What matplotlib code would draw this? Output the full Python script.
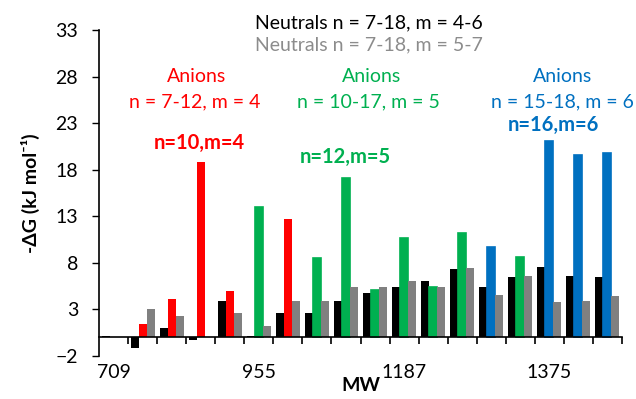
import numpy as np
import matplotlib.pyplot as plt

plt.rcParams['font.family'] = ['Lato', 'DejaVu Sans']

# one category per cluster size, ordered by molecular weight
n_cat = 18
mw_label_pos = [0, 5, 10, 15]
mw_label_txt = ["709", "955", "1187", "1375"]

neutral_m46 = [0.1, -1.1, 1.0, -0.25, 3.9, 0.1, 2.64, 2.64, 3.9,
               4.75, 5.4, 6.0, 7.29, 5.4, 6.47, 7.54, 6.64, 6.47]
anion = [0.0, 1.47, 4.15, 18.86, 5.0, 14.04, 12.7, 8.55, 17.1,
         5.04, 10.7, 5.4, 11.25, 9.65, 8.6, 21.04, 19.54, 19.75]
anion_m = [4, 4, 4, 4, 4, 5, 4, 5, 5, 5, 5, 5, 5, 6, 5, 6, 6, 6]
neutral_m57 = [0.0, 3.07, 2.25, 0.0, 2.65, 1.18, 3.9, 3.9, 5.4,
               5.4, 6.0, 5.4, 7.47, 4.57, 6.64, 3.75, 3.93, 4.39]

RED, GREEN, BLUE, GREY = '#FF0000', '#00B050', '#0070C0', '#808080'
m_colors = {4: RED, 5: GREEN, 6: BLUE}
FS = 14

W, H = 636, 399
fig = plt.figure(figsize=(W / 100, H / 100), dpi=100)
ax = fig.add_axes([99 / W, 1 - 356 / H, 523 / W, 326 / H])

x = np.arange(n_cat)
bw = 0.275
ax.bar(x - bw, neutral_m46, width=bw, color='black', zorder=1)
for xi, v, m in zip(x, anion, anion_m):
    c = m_colors[m]
    lw = 0 if m == 4 else 1.2
    ax.bar(xi, v, width=bw, color=c, edgecolor=c, linewidth=lw, zorder=1)
ax.bar(x + bw, neutral_m57, width=bw, color=GREY, zorder=1)

ax.set_xlim(-0.5, n_cat - 0.5)
ax.set_ylim(-2, 33)
ax.set_yticks(np.arange(-2, 34, 5))
ax.tick_params(axis='y', direction='out', length=5, width=1, pad=10, labelsize=FS)

# category axis sits on zero, labels stay at the bottom
for s in ['top', 'right']:
    ax.spines[s].set_visible(False)
ax.spines['left'].set_linewidth(1.2)
ax.spines['bottom'].set_position(('data', 0))
ax.spines['bottom'].set_linewidth(1.2)
ax.set_xticks(np.arange(0.5, n_cat, 1))
ax.tick_params(axis='x', direction='out', length=5, width=1.2, labelbottom=False)

sec = ax.secondary_xaxis(0)
sec.set_xticks(mw_label_pos, labels=mw_label_txt)
sec.tick_params(length=0, pad=6, labelsize=FS)
sec.spines['bottom'].set_visible(False)
sec.set_xlabel('MW', fontweight='bold', fontsize=FS, labelpad=-3)

ax.set_ylabel('-ΔG (kJ mol⁻¹)', fontweight='bold', fontsize=FS)
ax.yaxis.set_label_coords((40 - 99) / 523, 0.5)


def ftext(px, py, s, color, bold=False, size=FS):
    fig.text(px / W, 1 - py / H, s, color=color, ha='center', va='center',
             fontsize=size, fontweight='bold' if bold else 'normal')


ftext(369, 23, 'Neutrals n = 7-18, m = 4-6', 'black')
ftext(369, 45, 'Neutrals n = 7-18, m = 5-7', '#8C8C8C')

ftext(197, 77, 'Anions', RED)
ftext(195, 102, 'n = 7-12, m = 4', RED)
ftext(199, 143, 'n=10,m=4', RED, bold=True, size=14.5)

ftext(372, 77, 'Anions', GREEN)
ftext(368, 102, 'n = 10-17, m = 5', GREEN)
ftext(345, 157, 'n=12,m=5', GREEN, bold=True, size=14.5)

ftext(563, 77, 'Anions', BLUE)
ftext(562, 102, 'n = 15-18, m = 6', BLUE)
ftext(553, 125, 'n=16,m=6', BLUE, bold=True, size=14.5)

fig.savefig('out.png', dpi=100)
